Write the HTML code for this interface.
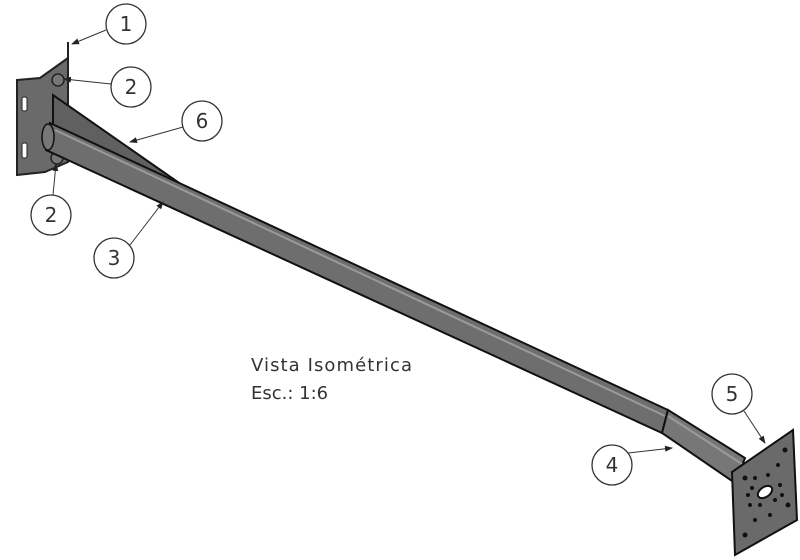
<!DOCTYPE html>
<html><head><meta charset="utf-8"><style>
html,body{margin:0;padding:0;background:#fff;}
svg{display:block}
text{font-family:"DejaVu Sans","Liberation Sans",sans-serif;fill:#333}
</style></head><body>
<svg width="800" height="560" viewBox="0 0 800 560" xmlns="http://www.w3.org/2000/svg">
<defs><marker id="a" markerWidth="8" markerHeight="8" refX="7" refY="4" orient="auto" markerUnits="userSpaceOnUse"><path d="M0,1 L8,4 L0,7z" fill="#222"/></marker></defs>
<!-- bracket plate -->
<polygon points="17,80 40,78 68,58 68,162 45,172 17,175" fill="#6a6a6a" stroke="#222" stroke-width="2"/>
<line x1="68" y1="42" x2="68" y2="60" stroke="#222" stroke-width="2"/>
<rect x="22" y="97" width="5" height="14" rx="2" fill="#fff" stroke="#222"/>
<rect x="22" y="143" width="5" height="15" rx="2" fill="#fff" stroke="#222"/>
<circle cx="58" cy="80" r="6" fill="#777" stroke="#222" stroke-width="1.5"/>
<circle cx="57" cy="158" r="6" fill="#777" stroke="#222" stroke-width="1.5"/>
<!-- gusset -->
<polygon points="53,95 53,135 182,185" fill="#606060" stroke="#111" stroke-width="2"/>
<!-- tube 3 -->
<polygon points="50,123 668,410 662,433 46,150" fill="#6e6e6e" stroke="#111" stroke-width="2"/>
<line x1="55" y1="130" x2="665" y2="416" stroke="#9a9a9a" stroke-width="2"/>
<ellipse cx="48" cy="137" rx="6" ry="13" fill="#777" stroke="#111" stroke-width="1.5"/>
<!-- tube 4 -->
<polygon points="668,410 745,458 735,483 662,433" fill="#777" stroke="#111" stroke-width="2"/>
<line x1="668" y1="416" x2="742" y2="464" stroke="#9a9a9a" stroke-width="2"/>
<!-- plate 5 -->
<polygon points="732,472 793,430 797,520 735,555" fill="#6a6a6a" stroke="#111" stroke-width="2"/>
<ellipse cx="765" cy="492" rx="8" ry="5" fill="#fff" stroke="#111" stroke-width="2" transform="rotate(-35 765 492)"/>
<g fill="#111">
<circle cx="785" cy="450" r="2.5"/><circle cx="745" cy="478" r="2.5"/><circle cx="745" cy="535" r="2.5"/><circle cx="788" cy="505" r="2.5"/>
<circle cx="778" cy="465" r="2"/><circle cx="755" cy="478" r="2"/><circle cx="752" cy="488" r="2"/><circle cx="750" cy="505" r="2"/>
<circle cx="760" cy="505" r="2"/><circle cx="775" cy="500" r="2"/><circle cx="780" cy="485" r="2"/><circle cx="768" cy="475" r="2"/>
<circle cx="755" cy="520" r="2"/><circle cx="770" cy="515" r="2"/><circle cx="748" cy="495" r="2"/><circle cx="782" cy="495" r="2"/>
</g>
<!-- balloons -->
<g fill="#fff" stroke="#333" stroke-width="1.3">
<circle cx="126" cy="24" r="20"/><circle cx="131" cy="87" r="20"/><circle cx="202" cy="121" r="20"/>
<circle cx="51" cy="215" r="20"/><circle cx="114" cy="258" r="20"/><circle cx="612" cy="465" r="20"/><circle cx="732" cy="394" r="20"/>
</g>
<g stroke="#333" stroke-width="1" marker-end="url(#a)">
<line x1="106" y1="30" x2="72" y2="44"/>
<line x1="111" y1="84" x2="64" y2="79"/>
<line x1="183" y1="127" x2="130" y2="142"/>
<line x1="53" y1="195" x2="56" y2="164"/>
<line x1="130" y1="245" x2="163" y2="202"/>
<line x1="628" y1="453" x2="672" y2="448"/>
<line x1="744" y1="411" x2="765" y2="443"/>
</g>
<g font-size="20" text-anchor="middle">
<text x="126" y="31">1</text><text x="131" y="94">2</text><text x="202" y="128">6</text>
<text x="51" y="222">2</text><text x="114" y="265">3</text><text x="612" y="472">4</text><text x="732" y="401">5</text>
</g>
<text x="251" y="371" font-size="18" textLength="161">Vista Isométrica</text>
<text x="251" y="399" font-size="18">Esc.: 1:6</text>
</svg>
</body></html>
